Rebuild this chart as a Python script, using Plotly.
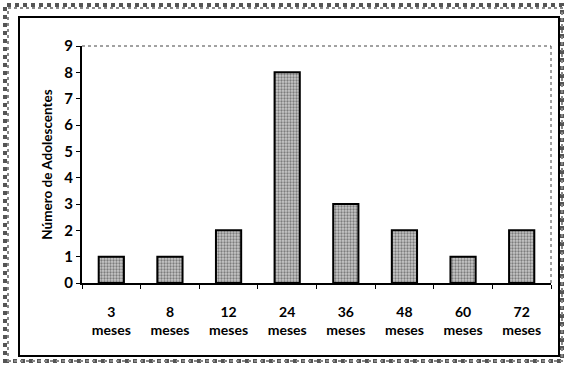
import plotly.graph_objects as go

categories = ["3<br>meses", "8<br>meses", "12<br>meses", "24<br>meses",
              "36<br>meses", "48<br>meses", "60<br>meses", "72<br>meses"]
values = [1, 1, 2, 8, 3, 2, 1, 2]
y_title = "Número de Adolescentes"

W, H = 565, 365
L, R, T, B = 82, 551, 46, 283

def px(x):
    return (x - L) / (R - L)

def py(y):
    return (B - y) / (B - T)

fig = go.Figure(go.Bar(
    x=categories, y=values, width=0.43,
    marker=dict(color="#a0a0a0",
                line=dict(color="black", width=2),
                pattern=dict(shape=".", fgcolor="#303030", bgcolor="#c8c8c8",
                             size=3, solidity=0.45)),
))

font = "Lato"
fig.update_layout(
    width=W, height=H,
    margin=dict(l=L, r=W - R, t=T, b=H - B),
    paper_bgcolor="white", plot_bgcolor="white",
    showlegend=False,
    font=dict(family=font, color="black", size=13),
    xaxis=dict(type="category", showline=True, linecolor="black", linewidth=2,
               ticks="outside", tickson="boundaries", ticklen=4, tickcolor="black",
               automargin=False, ticklabelstandoff=15,
               tickfont=dict(family=font, size=14, weight="bold"), showgrid=False),
    yaxis=dict(range=[0, 9], dtick=1, showline=True, linecolor="black", linewidth=2,
               ticks="outside", ticklen=4, tickcolor="black", showgrid=False,
               zeroline=False, automargin=False,
               tickfont=dict(family=font, size=15, weight="bold"),
               title=dict(text=y_title, font=dict(family=font, size=13.5, weight="bold"),
                          standoff=9)),
)

shapes = []
# dotted top and right edges of plot area
shapes.append(dict(type="line", xref="paper", yref="paper", x0=0, x1=1, y0=1, y1=1,
                   line=dict(color="#444", width=1, dash="dot")))
shapes.append(dict(type="line", xref="paper", yref="paper", x0=1, x1=1, y0=0, y1=1,
                   line=dict(color="#444", width=1, dash="dot")))
# inner solid frame
shapes.append(dict(type="rect", xref="paper", yref="paper",
                   x0=px(19), x1=px(559), y0=py(356), y1=py(17),
                   line=dict(color="black", width=2)))
# outer dotted frame band
shapes.append(dict(type="rect", xref="paper", yref="paper",
                   x0=px(5), x1=px(562), y0=py(361), y1=py(5),
                   line=dict(color="#555", width=4, dash="dot")))
shapes.append(dict(type="rect", xref="paper", yref="paper",
                   x0=px(8), x1=px(562), y0=py(361), y1=py(8),
                   line=dict(color="#888", width=2, dash="dot")))
fig.update_layout(shapes=shapes)

fig.write_html("out.html", config={"displayModeBar": False},
               post_script="document.body.style.margin='0px';")
